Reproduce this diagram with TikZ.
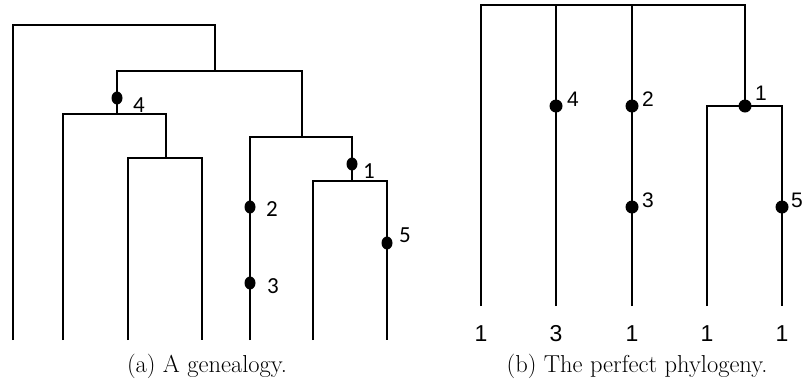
\documentclass[tikz,border=0pt]{standalone}
\usepackage{fontspec}
\usetikzlibrary{shapes.geometric}
\newfontfamily\calfont{Carlito}
\newfontfamily\arialfont{Liberation Sans}
\begin{document}
\begin{tikzpicture}[x=1pt,y=-1pt,
  edge/.style={line width=1.6pt,line cap=butt},
  edgeb/.style={line width=1.4pt},
  dotA/.style={ellipse,fill=black,inner sep=0pt,minimum width=11pt,minimum height=13pt},
  dotB/.style={circle,fill=black,inner sep=0pt,minimum size=13pt},
  labA/.style={font=\calfont\fontsize{23}{26}\selectfont,inner sep=0pt},
  labB/.style={font=\arialfont\fontsize{21}{24}\selectfont,inner sep=0pt},
  leafB/.style={font=\arialfont\fontsize{23}{26}\selectfont,inner sep=0pt},
  captxt/.style={font=\fontsize{24.5}{28}\selectfont,inner sep=0pt}]
\useasboundingbox (0,0) rectangle (804,381);
% ---------- (a) genealogy ----------
\coordinate (a1) at (13,340);
\coordinate (a2) at (63,340);
\coordinate (a3) at (128,340);
\coordinate (a4) at (202,340);
\coordinate (a5) at (250,340);
\coordinate (a6) at (313,340);
\coordinate (a7) at (387,340);
\coordinate (ar) at (215,25);
\coordinate (an2) at (215,71);
\coordinate (an3) at (117,114);
\coordinate (an4) at (166,158);
\coordinate (an5) at (302,137);
\coordinate (an6) at (352,181);
\draw[edge] (a1) |- (ar) -- (an2);
\draw[edge] (an3) |- (an2) -| (an5);
\draw[edge] (a2) |- (an3) -| (an4);
\draw[edge] (a3) |- (an4) -| (a4);
\draw[edge] (a5) |- (an5) -| (an6);
\draw[edge] (a6) |- (an6) -| (a7);
\node[dotA] (m4) at (117,98) {};
\node[dotA] (m1) at (352,164) {};
\node[dotA] (m2) at (250,207) {};
\node[dotA] (m3) at (250,283) {};
\node[dotA] (m5) at (387,243) {};
\node[labA] (l4) at (139,105) {4};
\node[labA] (l1) at (369,171) {1};
\node[labA] (l2) at (272,209) {2};
\node[labA] (l3) at (273,286) {3};
\node[labA] (l5) at (405,235) {5};
\node[captxt] (capa) at (207,366) {(a) A genealogy.};
% ---------- (b) perfect phylogeny ----------
\coordinate (b1) at (481,306);
\coordinate (b2) at (556,306);
\coordinate (b3) at (632,306);
\coordinate (b4) at (707,306);
\coordinate (b5) at (782,306);
\coordinate (bt1) at (481,5);
\coordinate (bt2) at (556,5);
\coordinate (bt3) at (632,5);
\coordinate (bt4) at (745,5);
\coordinate (bn) at (745,106);
\draw[edgeb] (b1) -- (bt1) -- (bt4) -- (bn);
\draw[edgeb] (b2) -- (bt2);
\draw[edgeb] (b3) -- (bt3);
\draw[edgeb] (b4) |- (bn) -| (b5);
\node[dotB] (n4) at (556,106) {};
\node[dotB] (n2) at (632,106) {};
\node[dotB] (n1) at (745,106) {};
\node[dotB] (n3) at (632,207) {};
\node[dotB] (n5) at (782,207) {};
\node[labB] (k4) at (573,99) {4};
\node[labB] (k2) at (648,99) {2};
\node[labB] (k1) at (761,93) {1};
\node[labB] (k3) at (648,200) {3};
\node[labB] (k5) at (797,200) {5};
\node[leafB] (c1) at (481,334) {1};
\node[leafB] (c2) at (556,334) {3};
\node[leafB] (c3) at (632,334) {1};
\node[leafB] (c4) at (707,334) {1};
\node[leafB] (c5) at (782,334) {1};
\node[captxt] (capb) at (637,366) {(b) The perfect phylogeny.};
\end{tikzpicture}
\end{document}
